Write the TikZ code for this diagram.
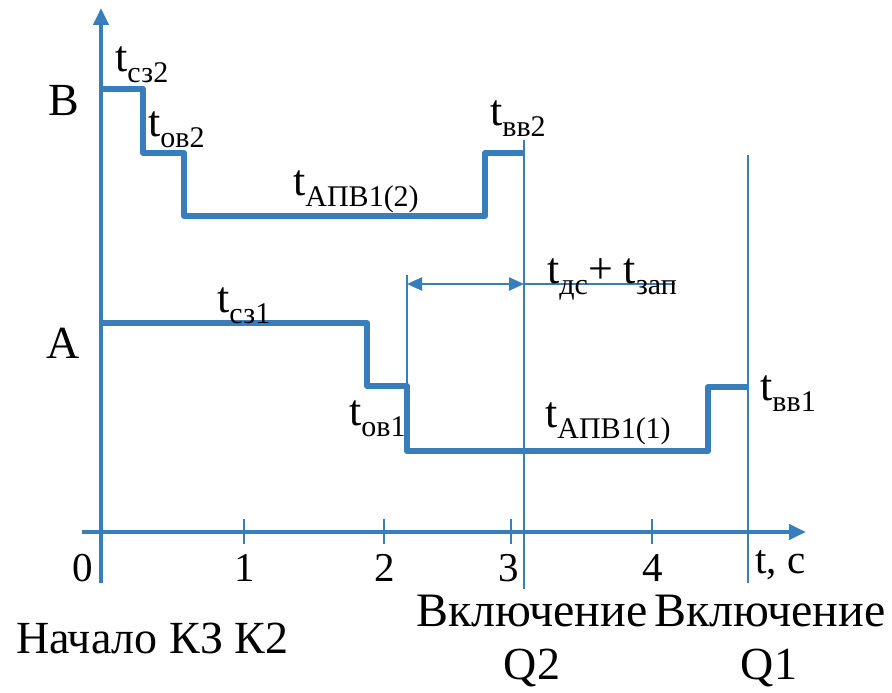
\documentclass[tikz,border=0pt]{standalone}
\usepackage{fontspec}
\setmainfont{Liberation Serif}
\usetikzlibrary{arrows.meta}
\definecolor{sb}{RGB}{56,126,189}
\newcommand\sbs[1]{\raisebox{-11pt}{\fontsize{30}{30}\selectfont #1}}
\tikzset{
  lbl/.style={inner sep=0pt, anchor=base west, font=\fontsize{44}{44}\selectfont},
  big/.style={inner sep=0pt, anchor=base west, font=\fontsize{46}{46}\selectfont},
  dig/.style={inner sep=0pt, anchor=base, font=\fontsize{41}{41}\selectfont},
  stepline/.style={sb, line width=6pt, line join=round},
  axis/.style={sb, line width=4pt},
  thin/.style={sb, line width=2pt},
  tick/.style={sb, line width=2pt}
}
\begin{document}
\begin{tikzpicture}[x=1pt,y=-1pt]
\useasboundingbox (0,0) rectangle (892,693);
% axes
\coordinate (o) at (101,532);
\coordinate (ytop) at (101,8);
\coordinate (ybot) at (101,583);
\coordinate (xl) at (82,532);
\coordinate (xr) at (806,532);
\draw[axis, -{Triangle[length=17pt,width=15pt]}] (ybot) -- (ytop);
\draw[axis, -{Triangle[length=17pt,width=15pt]}] (xl) -- (xr);
% ticks
\foreach \x/\n in {244/1,384/2,511/3,652/4}{
  \draw[tick] (\x,519) -- (\x,544);
}
% vertical event lines
\coordinate (q2t) at (524,140);
\coordinate (q2b) at (524,589);
\coordinate (q1t) at (748,155);
\coordinate (q1b) at (748,583);
\draw[thin] (q2t) -- (q2b);
\draw[thin] (q1t) -- (q1b);
% curve B
\draw[stepline] (101,89) -- (143,89) -- (143,153) -- (184,153) -- (184,216) -- (485,216) -- (485,153) -- (524,153);
% curve A
\draw[stepline] (101,323) -- (367,323) -- (367,386) -- (407,386) -- (407,451) -- (708,451) -- (708,387) -- (748,387);
% dimension
\coordinate (d1) at (407,284);
\coordinate (d2) at (524,284);
\coordinate (d3) at (675,284);
\draw[thin] (407,275) -- (407,451);
\draw[sb, line width=2.5pt, {Triangle[length=15pt,width=13pt]}-{Triangle[length=15pt,width=13pt]}] (d1) -- (d2);
\draw[sb, line width=1.5pt] (d2) -- (d3);
% labels
\node[big] (lB) at (48,115) {В};
\node[big] (lA) at (46,358) {А};
\node[lbl] (tsz2) at (115,72) {t\sbs{сз2}};
\node[lbl] (tov2) at (148,136) {t\sbs{ов2}};
\node[lbl] (tapv2) at (293,195) {t\sbs{АПВ1(2)}};
\node[lbl] (tvv2) at (490,125) {t\sbs{вв2}};
\node[lbl] (tdc) at (547,283) {t\sbs{дс}+ t\sbs{зап}};
\node[lbl] (tsz1) at (217,312) {t\sbs{сз1}};
\node[lbl] (tov1) at (349,425) {t\sbs{ов1}};
\node[lbl] (tapv1) at (545,427) {t\sbs{АПВ1(1)}};
\node[lbl] (tvv1) at (760,400) {t\sbs{вв1}};
% axis numbers
\node[dig] (n0) at (83,581) {0};
\node[dig] (n1) at (245,581) {1};
\node[dig] (n2) at (385,581) {2};
\node[dig] (n3) at (509,581) {3};
\node[dig] (n4) at (653,581) {4};
\node[inner sep=0pt, anchor=base west, font=\fontsize{41}{41}\selectfont] (tc) at (755,573) {t, с};
% bottom texts
\node[big] (start) at (16,653) {Начало КЗ К2};
\node[big, font=\fontsize{48}{48}\selectfont] (vk2) at (416,626) {Включение};
\node[big, font=\fontsize{48}{48}\selectfont] (vk1) at (654,626) {Включение};
\node[big, anchor=base] (q2) at (532,679) {Q2};
\node[big, anchor=base] (q1) at (769,679) {Q1};
\end{tikzpicture}
\end{document}
